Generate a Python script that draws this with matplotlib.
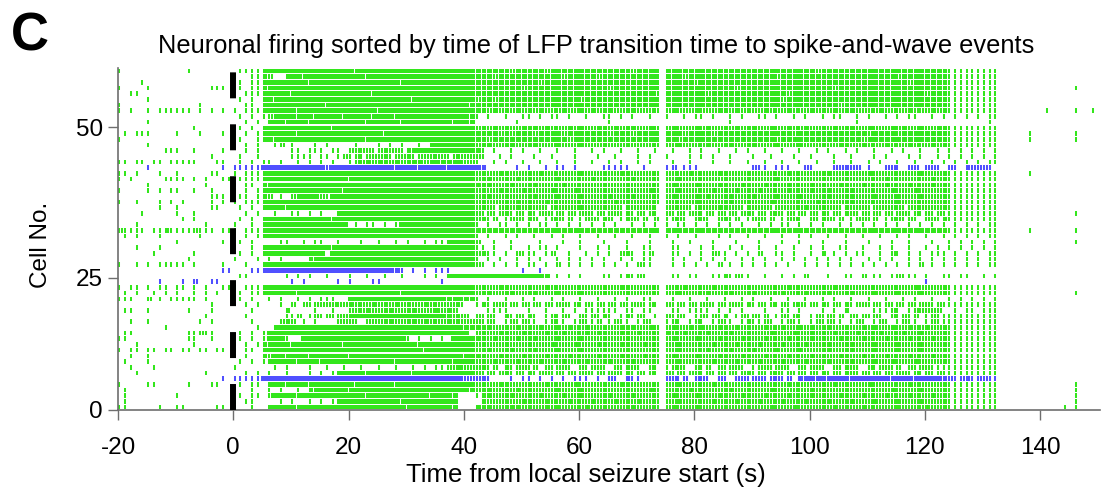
import numpy as np
import matplotlib
matplotlib.use("Agg")
import matplotlib.pyplot as plt

plt.rcParams['font.family'] = ['Liberation Sans', 'DejaVu Sans']
plt.rcParams['lines.scale_dashes'] = False

# Segments: -20..-1 s | 0..5 s | 6..41 s | 42..132 s | 133..150 s   ('.' = no spike)
BIN_T0 = -20
SEG_BINS = [20, 6, 36, 91, 18]

cells = [
    ("1......... ..1.......", ".11113", "4444444444 4444434444 4444444444 444444",
     "3333332333 3323333333 3333333233 33.3333333 3332333333 3333333332 3333233333 3333333333 3311111111 1", ".......... ........"),
    (".......... ..........", "1..113", "2..3443444 4444444344 4444444444 444444",
     "3332333333 3333323333 3233333333 33.3332333 3333333333 3323333333 3333333333 3332333333 3211111111 1", ".......... ........"),
    ("....1..... ..........", ".1.113", "4444444344 4444444444 4443444444 444444",
     "3333333333 3233333333 3333333333 33.3333323 3333333333 3333333333 3333333333 3333323333 3311111111 1", ".......... ........"),
    ("1....1.... ......111.", ".1.112", "3444444444 4434444444 4444444444 444444",
     "3333333323 3333333333 3332333333 33.3333333 3333323333 3333333333 3323333333 3333333333 3211111111 1", ".......... ...1...."),
    ("..11...... ..........", "..1112", "4444344444 4444444434 4444444444 444444",
     "3333333333 3333333333 3333333333 32.3333333 2333333333 3333233333 3333333333 3333333323 3211111111 1", ".......... ........"),
    (".....1.... ..........", ".1.1.3", "4344444444 4444444444 4444434444 444444",
     "2332333333 3333333323 3333333333 33.3333333 3333333333 3332333333 3333333333 3333333333 3311111111 1", ".......... ........"),
    ("1......... ....1.....", "..11.3", "4444444444 3444444444 4444444444 444443",
     "3333323333 3333333333 3333333333 33.3333333 3333333333 3333333333 3332333333 3333333333 3211111111 1", ".......... ........"),
    ("1.1..1.111 111.1.1.1.", "1.1112", "4444434444 4444444443 4444444444 444444",
     "3223232322 2322232232 3223222322 22.2322232 2232232322 3222322232 2232232222 3222232223 2211111111 1", "........1. ...1..1."),
    (".......... ..........", ".1.1.1", "2344434434 4443444434 4434444444 444443",
     "1.1..1..11 .1.11.1..1 ..11.1.1.. 1..1..1.11 .1..1.1..1 1.1..1.1.. 1.11..1.1. .1.1.11..1 .1.1.1.1.1 1", ".......... ........"),
    (".....1.... ..........", "..1.1.", "3443444344 4434444344 4443444444 443443",
     ".......1.. .......... ...1...... .......... ....1..... .......... ......1... .......... .........1 .", ".......... ........"),
    (".......... ...1......", ".1.1.3", "4444444444 4344444444 4444444444 444444",
     "2323232232 3232223232 2322322322 32.2322232 3223232232 2322322322 3232232232 2232322322 3211111111 1", ".......... ........"),
    (".1.111.... 1...1...1.", "1.1.13", "4444434444 4444444444 3444444444 444444",
     "3333232333 2333323333 3332333233 33.3332333 3233333233 3333323333 2333333323 3332333333 3211111111 1", ".....1.... ...1...."),
    ("1......... ..........", ".1..12", "4344444444 4444444344 4444444444 444444",
     "3323333333 3333332333 3333333333 33.3323333 3333333333 3323333333 3333333233 3333333333 3311111111 1", ".....1.... ...1...."),
    (".....1.... ..........", "..1.1.", ".12.1...1. 1....1...1 .1.1..1.34 444444",
     "2232223222 3222322232 2232223222 22.2232222 3222322232 2232223222 2223222322 2322232223 2211111111 1", ".......... ........"),
    ("........11 1..1....1.", "..1.1.", "....11.111 .11.222212 2221234444 444444",
     "31.1..1.1. .1..1..1.. 1.1..1..1. .1..1..1.1 ..1..1.1.. 1..1..1..1 .1..1.1..1 ..1.1..1.. 1.1.1.1.1. 1", ".......... ........"),
    (".......... ......1...", ".1..1.", "....1111.1 1.12121222 2122212222 212222",
     "21..1.1... 1..1...1.. .1..1...1. 1..1...1.1 .1..1...1. .1...1..1. ..1..1...1 .1...1.1.. 1.1.1.1.1. 1", ".......... ........"),
    ("11.11.11.1 1111...11.", ".1.1.1", "1.1..1.1.1 .1..122323 3232333233 333322",
     "1..1.1..1. .1..1..1.. 1..1.1..1. 1...1..1.. .1..1..1.. 1..1..1..1 ..1..1..1. 1..1..1..1 .1.1.1.1.1 1", ".......... ........"),
    (".....1.... ........1.", "111114", "4444444444 2444444444 4434443444 434444",
     "42.....1.1 ..1.11.1.. ..11111..1 ...12.111. ........21 1.111..21. ..22222.1. .221.22.22 1.21.22221 .", ".......... ........"),
    ("11.1...1.. 1.....11..", "1.1113", "4444444444 4444444444 4444444444 444444",
     "2222322222 2322222232 2222232222 22.2222322 2232222222 2222322222 2322222232 2222222322 2211111111 1", ".....1.... ........"),
    ("1.1.....11 11.1.1..11", ".11113", "4444444444 4444344444 4444444444 444444",
     "2232222322 2222322222 3222222322 22.2232222 2222222322 2232222222 2222322222 2322222223 2211111111 1", ".......... ........"),
    (".....1.... .....1....", "1.11.3", "3444444444 4444444444 4444444444 444444",
     "3232223222 3222232222 2232223222 22.2322232 2232223222 3222322232 2223222322 2322232223 2211111111 1", ".......... ........"),
    ("1....1.1.1 1..1..1...", "1.1.13", "4444444444 4443444444 4444444444 444444",
     "2222322232 2223222322 2232223222 32.2232222 2322232223 2222322232 2322232222 2232223222 2311111111 1", ".......... ........"),
    (".......... ......111.", ".11.13", "2.1.234442 1444444444 4444444444 444444",
     "2232232222 3222322232 2223222322 22.2322232 3222322232 2232223222 2322232223 2223222322 2211111111 1", ".......... ........"),
    ("1..1...1.1 .1....1.1.", "1.1113", "4444444444 4444444444 4444444444 444444",
     "2222222322 2232222222 2222322222 22.2222232 2222322222 2322222223 2222232222 2223222222 2211111111 1", ".......... ........"),
    (".......1.. 1.....11..", ".1.1.3", "4443444444 4444444444 4444444444 444444",
     "2221222322 2212222232 2222212222 21.2222122 2232221222 2122222322 2221222212 2222122222 2211111111 1", ".......... ........"),
    ("....1..... 1..1......", "..1.1.", ".1..11.1.1 ..34444444 4444444444 444444",
     "2121221212 1221212122 1212212121 21.2121221 2121212212 1221212121 2121221212 1212212121 2111111111 1", ".......... ...1...."),
    (".......... .1.1......", ".1.1.3", "4444444444 4344444444 4444444444 444444",
     "2212.12212 2.12212.12 2122.12212 .2.1221.22 1.2212.122 12.1221.21 2212.12212 .122121.22 1211111111 1", ".......... ........"),
    ("...1...... .....1....", "1..1.3", "4444444444 4444.1.11. 1.14444444 444444",
     "1.1.11.1.1 .11.1.1.1. 1.1.1..1.1 .1.1.11.1. 1.1.1.1..1 .1.11.1.1. 1..1.1.1.1 .1.1.1.1.1 .1.1.1.1.1 1", ".......... ........"),
    ("21111.1121 1112111.11", "1.1113", "4444444444 4444444444 4444444444 444444",
     "3333333333 3333333333 3333333333 33.3333333 3333333333 3333333333 3333333333 3333333333 3311111111 1", ".....1.... ...1...."),
    (".1.1...1.. ....1.....", "..1.13", "4444444444 4444444444 4444444444 444444",
     "1.1..1.1.. 1..1.1..1. .1..1..1.. 1..1.1..1. ..1.1..1.. 1..1..1.1. .1..1..1.. 1..1.1..1. .1.1.1.1.1 1", ".......... ........"),
    (".......... 1.......1.", ".1.1..", "..11..1.11 ..1...1..1 ..1.1..1.1 134444",
     "2..1..1... .1...1..1. ..1...1... 1...1..1.. .1...1...1 ...1..1... 1...1...1. ..1..1...1 ..1.1.1.1. 1", ".......... ...1...."),
    ("...1...1.. ..........", "1..1.3", "4444444444 4344444444 4444444444 444444",
     "11.1..1..1 .11.1...1. .1.1..1..1 1...11...1 .1..1.1..1 ..1..1..1. 1..11..1.. 1.1..1..1. 1.1.1.1.1. 1", ".......... ........"),
    ("......1... ...1......", ".1.1.3", "4444444444 .444444444 4444444444 444444",
     "2211.1.211 1.12..1..1 .1.1.221.1 2...11.1.1 .211.1.1.2 ..11.1..1. 2.1.1.11.. 1.21.1.1.1 11.1.1.1.1 1", ".......... ........"),
    (".......... ..1.......", "1...1.", "1.1....234 4444444444 4444444444 444444",
     "1.1.1..1.1 .1..1.1.1. 1.1..1.1.1 1...1.1..1 .1.1..1.1. 1..1.1.1.1 .1.1.1..1. 1.1..1.1.1 .1.1.1.1.1 1", ".......... ........"),
    ("1..1.1.111 11.1....1.", "..1..3", "4444444444 4444444444 4444444444 444444",
     "21.1.1.1.1 1.1.2.1.1. 1.1.1.1.21 1...1.1.1. 1.2.1.1.1. 1.1.1..1.1 .1.1.1.1.1 .1.1.1.2.1 .1.1.1.1.1 1", ".......... ........"),
    (".......... ........11", "...113", "4444444444 4444444444 4431.1.1.1 11....",
     "........1. .1........ .......... .......... .......... .......... .......... .......... .......... .", ".......... ........"),
    (".......... ..........", ".11...", "...1.1.1.. 1...1..1.. 1..1...1.1 .34444",
     "4444444444 443.1.1.1. ..11.12121 ....11.11. .1121211.. 1..1.1.2.. .1..11.2.1 1.12111.1. .11.11..1. 1", ".......... ........"),
    (".......1.. .1.2..11..", "......", "....1.1... ..1.1...11 .......... 1.....",
     ".......... .......... .......... .......... .......... .......... .......... ........1. .......... .", ".......... ........"),
    ("1.11.1.11. 11.1.1..11", "1.1113", "4444444444 4444444444 4444444444 444444",
     "2222322222 2232222222 2222232222 22.2223222 2322222222 2222322222 2232222222 2222223222 2211111111 1", ".......... ........"),
    (".1.1..1.1. 1..1.1.1..", ".1.113", "4444434444 4444444444 4443444444 444444",
     "2232223222 3222322232 2232223222 22.2232222 3222322232 2223222322 2322232223 2223222322 2211111111 1", ".......... ...1...."),
    ("111..2.1.1 1111.1....", ".1.1..", "1.1..1.1.1 11..444444 4444444444 433333",
     "1.1..1..1. 1..1.1..1. .1..1.1..1 1...1..1.. 1..1..1.1. .1..1..1.. 1.1..1..1. .1..1.1..1 ..1.1.1.1. 1", ".......... ........"),
    (".......... ......1...", "..1.1.", "..1.2.2122 2222322232 2232222322 2222..",
     "1212212121 2121221212 1212121221 21.2121212 2121221212 1212122121 2121212212 1212121221 2111111111 1", ".......... ........"),
    (".11..1.... ..1...1...", "...1..", "...2....1. .1..222322 2322232223 232...",
     "..1111...1 ..1..1.1.1 11111.11.1 1...11.111 1.1.1.1... 1..11.1... 1.1.2....1 1121.12222 2..1.11.11 1", ".......... ........"),
    (".......... .....1....", "..1...", "...112.121 2122344444 4444444444 43222.",
     "2121.21212 1.12121.21 2121.12121 .1.2121.12 1212.12121 2.12121.12 1212.21212 1.21212.12 1111111111 1", ".......... ........"),
    ("..1..1.... ....1.1...", "...1..", "..222.1.1. ..2221.222 2322232322 232222",
     "2121.12121 1.1211.121 12.1211.12 1..121.121 .1211.1211 21.1211.12 1211.121.1 21.1211.12 1111111111 1", ".......... ........"),
    ("........1. ..........", "....1.", ".344444444 4444443444 4444444444 444433",
     "3232232322 2322323223 2232232322 32.2322323 2232232322 3223223232 2322322323 2232232232 2211111111 1", ".......... ........"),
    (".11....... ..11211...", ".1.1.1", "4444444444 4434444444 4444444444 44444.",
     "2322322232 2232232223 2322232232 22.3223222 3222322322 2322232232 2232223222 3222322322 2211111111 1", ".......... ........"),
    ("11........ ..11..1...", ".1.1.1", "4441..4444 4444444444 44441.1.1. 1.4444",
     "3223222322 3222322232 2232223222 22.2322232 2232223222 3222322232 2223222322 2322232223 2211111111 1", ".......... ........"),
    ("...1...... ...1......", "1.1.13", "3444344444 4443444444 4444443444 444444",
     "2322232223 2223222322 2322232223 22.2232222 2322232223 2223222322 2322232223 2223222322 2211111111 1", ".......... ........"),
    ("1.11.11.11 .11.11.11.", "1.11.3", "4444444444 4434444444 4444444344 444444",
     "2232223222 3222322232 2232223222 22.2232222 3222322232 2232223222 2322232223 2223222322 2211111111 1", ".......... ........"),
    ("..1..1.... ..........", "1.1..2", "2443444344 4444344444 4444444444 444434",
     "3222322232 2232223222 2322232223 22.2322232 2232223222 3222322232 2223222322 2322232223 2211111111 1", ".......... ........"),
    (".1...1.... ..........", ".1.1.1", "3444434443 4434444444 4434444444 443444",
     "2223222322 2322232223 2223222322 22.2232222 2322232223 2223222322 2322232223 2232223222 2211111111 1", ".......... ........"),
    ("..1...1... ..........", "1.....", ".1.1...1.. 1..1..1..1 ..1..1.1.1 122322",
     "2212.21221 2.21221.21 221.21221. 21.1221.21 2.21221.12 21221.2122 1.21221.21 2212.21221 1111111111 1", ".......... ........"),
    ("...1...... .....1....", "..1.1.", "1..1...1.1 .134444344 4444434444 444444",
     "2121221212 1221212122 1212212121 21.2121221 2121212212 1221212121 2121221212 1212212121 2111111111 1", ".......... ........"),
    (".......... ........1.", "111114", "4444444444 4444444444 4444444444 444322",
     "221...1.11 .1.1.1.111 .1.21.211. ...2212.22 1.21.22122 12212.3343 4344434443 4434443444 4321221221 1", ".......... ........"),
    ("1....11... ..1...11..", ".1.11.", "3443444344 4444434444 4434444444 444344",
     "2222322222 2232222322 2222232222 22.2232222 2322222322 2222322222 2232222232 2222232222 2211111111 1", ".......... ...1...."),
    (".1........ ..........", "1..1..", "1.1..1.234 4444344444 4444444444 444443",
     "2232222322 2222322232 2232222222 32.2222322 2222322222 2322222232 2222322222 2232222322 2211111111 1", ".......... ...1...."),
    (".1........ 1.........", ".1.11.", "2444434444 4444444344 4444444434 443...",
     "1232223222 2322232232 2223222322 22.2322232 2232223222 3222322232 2223222322 2322232223 2211111111 1", ".......... ...1...."),
    (".1........ ..........", "1.11..", "..1.1..1.1 .134444444 4443444444 444...",
     ".322232232 2232223222 3222322232 22.2232222 2322232223 2223222322 2322232223 2223222322 2211111111 1", ".......... ...1...."),
    ("11.....1.. 11.....11.", "1..1..", "3444434444 4434444444 4444344444 443...",
     "3232223322 2232322223 2232222322 22.2322232 2223222322 2322232222 2232222322 2223222232 2211111111 1", ".......... .1.1...."),
]

blue_cells = [5, 22, 24, 42]   # counted from the bottom row (0)

x_ticks = [-20, 0, 20, 40, 60, 80, 100, 120, 140]
y_tick_pos = [0, 23.2, 49.6]
y_tick_labels = ['0', '25', '50']

# where spikes sit inside a 1 s bin, by count
SLOTS = {1: [0.25], 2: [0.25, 0.75], 3: [0.25, 0.5, 0.75], 4: [0.0, 0.25, 0.5, 0.75]}

GREEN = '#33e61c'
BLUE = '#5050ff'


def spike_times(segments):
    times = []
    t0 = BIN_T0
    for seg, n in zip(segments, SEG_BINS):
        s = seg.replace(" ", "").ljust(n, ".")[:n]
        for i, ch in enumerate(s):
            if ch.isdigit() and ch != '0':
                times.extend(t0 + i + off for off in SLOTS[int(ch)])
        t0 += n
    return np.array(times)


n_cells = len(cells)
positions = []
offsets = []
colors = []
for idx, segs in enumerate(cells):
    row = n_cells - 1 - idx
    positions.append(spike_times(segs))
    offsets.append(row + 0.5)
    colors.append(BLUE if row in blue_cells else GREEN)

fig = plt.figure(figsize=(11.02, 4.91), dpi=100)
ax = fig.add_axes([118 / 1102, 81 / 491, 982 / 1102, 342 / 491])

ax.eventplot(positions, lineoffsets=offsets, linelengths=0.82,
             linewidths=1.45, colors=colors)

# seizure onset marker
ax.plot([0, 0], [0, 60], color='black', lw=4.3, dashes=(18.7, 18.7),
        dash_capstyle='butt', solid_capstyle='butt', zorder=5)

ax.set_xlim(-20, 150.4)
ax.set_ylim(0, 60)
ax.set_xticks(x_ticks)
ax.set_xticklabels([str(v) for v in x_ticks])
ax.set_yticks(y_tick_pos)
ax.set_yticklabels(y_tick_labels)

for side in ['top', 'right']:
    ax.spines[side].set_visible(False)
for side in ['left', 'bottom']:
    ax.spines[side].set_color('#6e6e6e')
    ax.spines[side].set_linewidth(1.2)

ax.tick_params(axis='x', direction='out', length=7.5, width=1, color='#6e6e6e',
               labelsize=17.5, pad=12)
ax.tick_params(axis='y', direction='out', length=7, width=1, color='#6e6e6e',
               labelsize=17.5, pad=4)

ax.set_xlabel('Time from local seizure start (s)', fontsize=18.5, va='baseline')
ax.xaxis.set_label_coords(0.4766, -0.2105)

fig.text(41 / 1102, 1 - 245 / 491, 'Cell No.', rotation=90, fontsize=17.5,
         ha='center', va='center')
fig.text(596.5 / 1102, 1 - 53 / 491,
         'Neuronal firing sorted by time of LFP transition time to spike-and-wave events',
         fontsize=18.3, ha='center', va='baseline')
fig.text(11 / 1102, 1 - 50 / 491, 'C', fontsize=38, fontweight='bold',
         ha='left', va='baseline')

fig.savefig('out.png', dpi=100)
